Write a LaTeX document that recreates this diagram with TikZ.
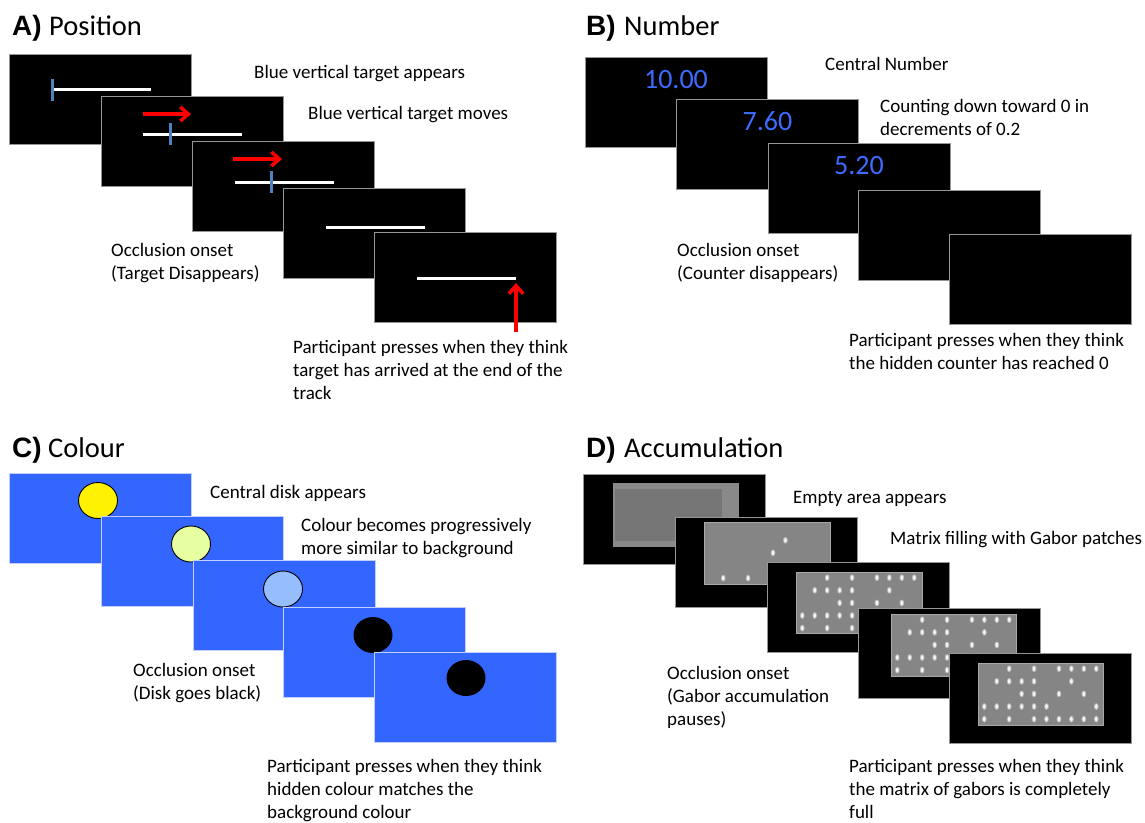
\documentclass[tikz,border=0pt]{standalone}
\usepackage{fontspec}
\setmainfont{Carlito}
\newfontfamily\headfont{Liberation Sans}
\usetikzlibrary{arrows.meta}

\definecolor{scredge}{RGB}{150,150,150}
\definecolor{bgblue}{RGB}{51,102,255}
\definecolor{bgedge}{RGB}{195,208,255}
\definecolor{tgtblue}{RGB}{79,129,189}
\definecolor{numblue}{RGB}{61,107,255}
\definecolor{fieldgray}{RGB}{133,133,133}
\definecolor{fieldedge}{RGB}{168,168,168}
\definecolor{fieldlight}{RGB}{137,137,137}
\definecolor{fielddark}{RGB}{118,118,118}
\definecolor{halo}{RGB}{185,185,185}
\definecolor{diskpale}{RGB}{230,255,160}
\definecolor{disksky}{RGB}{150,190,255}

% multi-line label whose baseline is that of its first line
\newcommand\ml[1]{\begin{tabular}[t]{@{}l@{}}#1\end{tabular}}

\tikzset{
  gab/.pic={
    \fill[halo] (0,0) ellipse [x radius=2.4pt, y radius=3.4pt];
    \fill[white!92!gray] (0,0) ellipse [x radius=1.3pt, y radius=2.3pt];
  }
}

% full matrix of Gabor patches (10 columns x 5 rows grid)
\newcommand\fullgabors{%
  \foreach \c/\r in {2/0,4/0,6/0,7/0,8/0,9/0,
                     1/1,2/1,3/1,4/1,7/1,
                     3/2,4/2,6/2,8/2,
                     0/3,1/3,2/3,3/3,4/3,5/3,9/3,
                     0/4,2/4,4/4,5/4,6/4,7/4,8/4,9/4}
    {\pic at ({6.3+12.44*\c},{5.7+12.6*\r}) {gab};}%
}

\begin{document}
\begin{tikzpicture}[x=1pt,y=-1pt,
  scr/.style={anchor=north west, minimum width=182pt, minimum height=90pt,
              inner sep=0pt, outer sep=0pt, fill=black, draw=scredge, line width=0.8pt},
  scrC/.style={scr, fill=bgblue, draw=bgedge},
  lbl/.style={anchor=base west, inner sep=0pt, font=\fontsize{19}{23}\selectfont},
  ttl/.style={anchor=base west, inner sep=0pt, font=\fontsize{28.5}{30}\selectfont},
  tag/.style={anchor=base west, inner sep=0pt, font=\headfont\bfseries\fontsize{28}{30}\selectfont},
  track/.style={draw=white, line width=3pt},
  tgt/.style={draw=tgtblue, line width=3pt},
  mv/.style={draw=red, line width=3.5pt, -{Straight Barb[length=8pt,width=14pt]}},
  num/.style={anchor=base, inner sep=0pt, text=numblue, font=\fontsize{28}{30}\selectfont},
  disk/.style={x radius=19.5pt, y radius=18pt},
  field/.style={fill=fieldgray, draw=fieldedge, line width=0.8pt}
]
\useasboundingbox (0,0) rectangle (1145,822);

%% ---------------- A) Position ----------------
\node[tag] (tA) at (12,35) {A)};
\node[ttl] (hA) at (49,35) {Position};

\begin{scope}[shift={(9,54)}]
  \node[scr] (a1) at (0,0) {};
  \draw[track] (44,35) -- (142,35);
  \draw[tgt] (43,25) -- (43,47);
\end{scope}
\begin{scope}[shift={(101,96)}]
  \node[scr] (a2) at (0,0) {};
  \draw[mv] (42,18) -- (90,18);
  \draw[track] (42,38) -- (141,38);
  \draw[tgt] (69,27) -- (69,49);
\end{scope}
\begin{scope}[shift={(192,141)}]
  \node[scr] (a3) at (0,0) {};
  \draw[mv] (41,18) -- (90,18);
  \draw[track] (43,41) -- (142,41);
  \draw[tgt] (79,30) -- (79,52);
\end{scope}
\begin{scope}[shift={(283,188)}]
  \node[scr] (a4) at (0,0) {};
  \draw[track] (43,39) -- (142,39);
\end{scope}
\begin{scope}[shift={(374,232)}]
  \node[scr] (a5) at (0,0) {};
  \draw[track] (43,46) -- (142,46);
  \coordinate (pressA) at (142,100);
  \coordinate (endA) at (142,51);
  \draw[mv] (pressA) -- (endA);
\end{scope}

\node[lbl] (la1) at (254,78) {Blue vertical target appears};
\node[lbl] (la2) at (308,119) {Blue vertical target moves};
\node[lbl] (la3) at (111,256) {\ml{Occlusion onset\\(Target Disappears)}};
\node[lbl] (la4) at (293,353) {\ml{Participant presses when they think\\target has arrived at the end of the\\track}};

%% ---------------- B) Number ----------------
\node[tag] (tB) at (586,35) {B)};
\node[ttl] (hB) at (624,35) {Number};

\begin{scope}[shift={(585,57)}]
  \node[scr] (b1) at (0,0) {};
  \node[num] (n1) at (91,31) {10.00};
\end{scope}
\begin{scope}[shift={(676,99)}]
  \node[scr] (b2) at (0,0) {};
  \node[num] (n2) at (91.5,31) {7.60};
\end{scope}
\begin{scope}[shift={(768,143)}]
  \node[scr] (b3) at (0,0) {};
  \node[num] (n3) at (91,31.5) {5.20};
\end{scope}
\begin{scope}[shift={(858,190)}]
  \node[scr] (b4) at (0,0) {};
\end{scope}
\begin{scope}[shift={(949,234)}]
  \node[scr] (b5) at (0,0) {};
\end{scope}

\node[lbl] (lb1) at (825,70) {Central Number};
\node[lbl] (lb2) at (880,112) {\ml{Counting down toward 0 in\\decrements of 0.2}};
\node[lbl] (lb3) at (677,256) {\ml{Occlusion onset\\(Counter disappears)}};
\node[lbl] (lb4) at (849,346) {\ml{Participant presses when they think\\the hidden counter has reached 0}};

%% ---------------- C) Colour ----------------
\node[tag] (tC) at (12,457) {C)};
\node[ttl] (hC) at (48,457) {Colour};

\begin{scope}[shift={(9,473)}]
  \node[scrC] (c1) at (0,0) {};
  \filldraw[fill=yellow, draw=black, line width=0.9pt] (89,27.5) ellipse [disk];
\end{scope}
\begin{scope}[shift={(101,516)}]
  \node[scrC] (c2) at (0,0) {};
  \filldraw[fill=diskpale, draw=black, line width=0.9pt] (90,28) ellipse [disk];
\end{scope}
\begin{scope}[shift={(193,560)}]
  \node[scrC] (c3) at (0,0) {};
  \filldraw[fill=disksky, draw=black, line width=0.9pt] (90,29) ellipse [disk];
\end{scope}
\begin{scope}[shift={(283,607)}]
  \node[scrC] (c4) at (0,0) {};
  \fill[black] (90,28) ellipse [disk];
\end{scope}
\begin{scope}[shift={(374,652)}]
  \node[scrC] (c5) at (0,0) {};
  \fill[black] (92,26) ellipse [disk];
\end{scope}

\node[lbl] (lc1) at (210,498) {Central disk appears};
\node[lbl] (lc2) at (301,531) {\ml{Colour becomes progressively\\more similar to background}};
\node[lbl] (lc3) at (133,676) {\ml{Occlusion onset\\(Disk goes black)}};
\node[lbl] (lc4) at (267,772) {\ml{Participant presses when they think\\hidden colour matches the\\background colour}};

%% ---------------- D) Accumulation ----------------
\node[tag] (tD) at (586,457) {D)};
\node[ttl] (hD) at (624,457) {Accumulation};

\begin{scope}[shift={(583,474)}]
  \node[scr] (d1) at (0,0) {};
  \fill[fieldlight] (30,9) rectangle (156,72.5);
  \fill[fielddark] (31.5,14.5) rectangle (138.5,66.5);
\end{scope}
\begin{scope}[shift={(675,517)}]
  \node[scr] (d2) at (0,0) {};
  \draw[field] (29.5,5) rectangle (155,67);
  \begin{scope}[shift={(29.5,5)}]
    \foreach \c/\r in {6/1,5/2,1/4,3/4}
      {\pic at ({6.3+12.44*\c},{5.7+12.6*\r}) {gab};}
  \end{scope}
\end{scope}
\begin{scope}[shift={(767,562)}]
  \node[scr] (d3) at (0,0) {};
  \draw[field] (29,10) rectangle (155,71);
  \begin{scope}[shift={(29,10)}]\fullgabors\end{scope}
\end{scope}
\begin{scope}[shift={(858,608)}]
  \node[scr] (d4) at (0,0) {};
  \draw[field] (33,6) rectangle (158.5,68);
  \begin{scope}[shift={(33,6)}]\fullgabors\end{scope}
\end{scope}
\begin{scope}[shift={(949,653)}]
  \node[scr] (d5) at (0,0) {};
  \draw[field] (29,10) rectangle (154,72);
  \begin{scope}[shift={(29,10)}]\fullgabors\end{scope}
\end{scope}

\node[lbl] (ld1) at (793,503) {Empty area appears};
\node[lbl] (ld2) at (890,544) {Matrix filling with Gabor patches};
\node[lbl] (ld3) at (667,679) {\ml{Occlusion onset\\(Gabor accumulation\\pauses)}};
\node[lbl] (ld4) at (849,772) {\ml{Participant presses when they think\\the matrix of gabors is completely\\full}};
\end{tikzpicture}
\end{document}
